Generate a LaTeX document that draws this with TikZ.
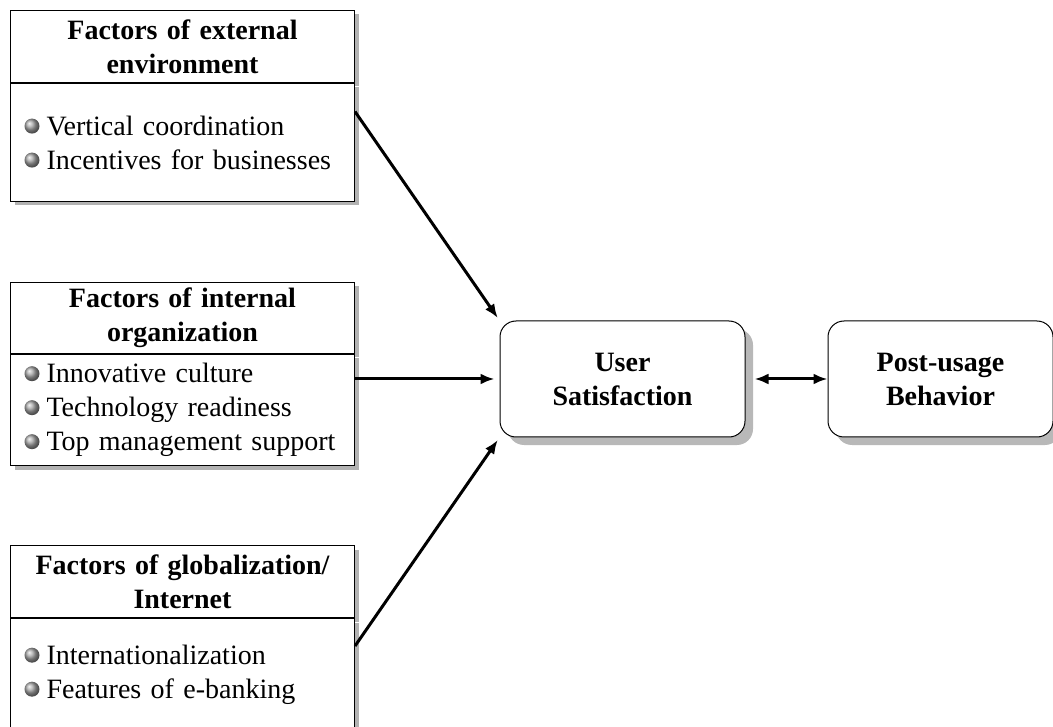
\documentclass[tikz,border=0pt]{standalone}
\usepackage{fontspec}
\setmainfont{Liberation Serif}
\usetikzlibrary{arrows.meta,calc,positioning,shadows}

\newcommand{\fsz}{\fontsize{28}{34}\selectfont}
\newcommand{\bul}{\tikz[baseline=-0.7ex]\shade[ball color=gray!70] (0,0) circle (7.5pt);\hspace{7pt}}

\begin{document}
\begin{tikzpicture}[x=1pt,y=-1pt,
  boxshadow/.style={drop shadow={shadow xshift=4pt,shadow yshift=-4pt,fill=black!30,opacity=1}},
  headbox/.style={draw,line width=1pt,fill=white,boxshadow,text width=330pt,inner xsep=7pt,
    minimum height=72pt,align=center,font=\fsz\bfseries},
  bodybox/.style={draw,line width=1pt,fill=white,boxshadow,text width=316pt,inner xsep=14pt,
    align=left,font=\fsz},
  roundbox/.style={draw,line width=1pt,fill=white,rounded corners=16pt,align=center,
    minimum height=116pt,font=\fsz\bfseries,
    drop shadow={shadow xshift=8pt,shadow yshift=-8pt,fill=black!28,opacity=1}},
  link/.style={line width=3pt,-{Latex[length=14pt,width=11pt]}}
]
  \clip (0,0) rectangle (1053,727);

  % external environment
  \node[headbox,anchor=north west] (extHead) at (10,10) {Factors of external\\environment};
  \node[bodybox,minimum height=118pt,below=0pt of extHead] (extBody)
    {\bul Vertical coordination\\\bul Incentives for businesses};

  % internal organization
  \node[headbox,anchor=north west,minimum height=71pt] (intHead) at (10,282) {Factors of internal\\organization};
  \node[bodybox,minimum height=111pt,below=0pt of intHead] (intBody)
    {\bul Innovative culture\\\bul Technology readiness\\\bul Top management support};

  % globalization / internet
  \node[headbox,anchor=north west] (globHead) at (10,545) {Factors of globalization/\\Internet};
  \node[bodybox,minimum height=112pt,below=0pt of globHead] (globBody)
    {\bul Internationalization\\\bul Features of e-banking};

  % outcome
  \node[roundbox,minimum width=245pt] (sat) at (622.5,379) {User\\Satisfaction};
  \node[roundbox,minimum width=225pt,right=82pt of sat] (post) {Post-usage\\Behavior};

  \draw[link,shorten >=3pt] ($(extBody.north east)!0.24!(extBody.south east)$) -- (sat.north west);
  \draw[link,shorten >=5pt] (intBody.east |- sat.west) -- (sat.west);
  \draw[link,shorten >=3pt] ($(globBody.north east)+(0,28)$) -- (sat.south west);
  \draw[link,{Latex[length=14pt,width=11pt]}-{Latex[length=14pt,width=11pt]},shorten <=9pt] (sat) -- (post);
\end{tikzpicture}
\end{document}
